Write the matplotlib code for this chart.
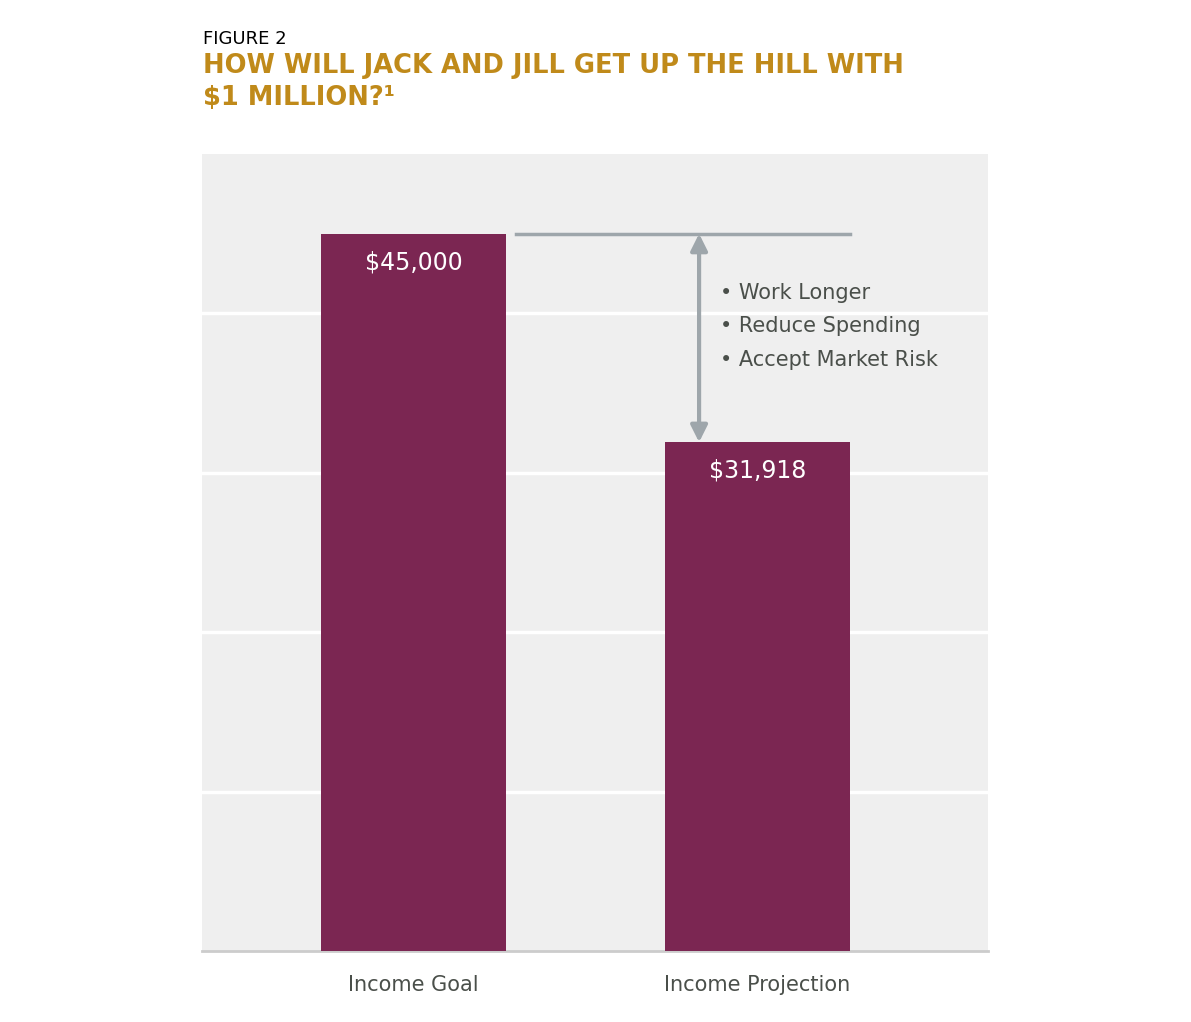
import matplotlib.pyplot as plt

categories = ['Income Goal', 'Income Projection']
values = [45000, 31918]
value_labels = ['$45,000', '$31,918']
bullets = ['Work Longer', 'Reduce Spending', 'Accept Market Risk']

bar_color = '#7b2652'
gray = '#9ea6ab'
text_color = '#4a4f4a'

fig = plt.figure(figsize=(11.91, 10.22), dpi=100)
ax = fig.add_axes([202/1191, 71/1022, 786/1191, 797/1022])
ax.set_facecolor('#efefef')

x = [0, 1]
ax.bar(x, values, width=0.538, color=bar_color, zorder=3)
ax.set_xlim(-0.615, -0.615 + 786/344)
ax.set_ylim(0, 50000)
ax.set_yticks([10000, 20000, 30000, 40000])
ax.yaxis.grid(True, color='white', linewidth=2.5, zorder=1)
ax.tick_params(axis='y', left=False, labelleft=False)
ax.tick_params(axis='x', bottom=False, labelsize=15, labelcolor=text_color, pad=14)
ax.set_xticks(x)
ax.set_xticklabels(categories)
for s in ['top', 'right', 'left']:
    ax.spines[s].set_visible(False)
ax.spines['bottom'].set_color('#cccccc')
ax.spines['bottom'].set_linewidth(2)

for xi, v, lab in zip(x, values, value_labels):
    ax.text(xi, v - 1800, lab, ha='center', va='center', color='white', fontsize=17, zorder=4)

# gap line and arrow
ax.plot([0.298, 1.269], [values[0], values[0]], color=gray, lw=2.5, zorder=4)
ax.annotate('', xy=(0.83, values[1]), xytext=(0.83, values[0]),
            arrowprops=dict(arrowstyle='<|-|>', color=gray, lw=3, mutation_scale=25,
                            shrinkA=0, shrinkB=0), zorder=4)
for i, b in enumerate(bullets):
    ax.text(0.89, 41300 - i * 2100, '\u2022 ' + b, color=text_color, fontsize=15,
            va='center', ha='left')

fig.text(203/1191, 1 - 39/1022, 'FIGURE 2', fontsize=13, color='black', va='center')
fig.text(203/1191, 1 - 82/1022, 'HOW WILL JACK AND JILL GET UP THE HILL WITH\n$1 MILLION?\u00b9',
         fontsize=18.5, fontweight='bold', color='#c08a1a', va='center', linespacing=1.3)

fig.savefig('out.png', dpi=100)
